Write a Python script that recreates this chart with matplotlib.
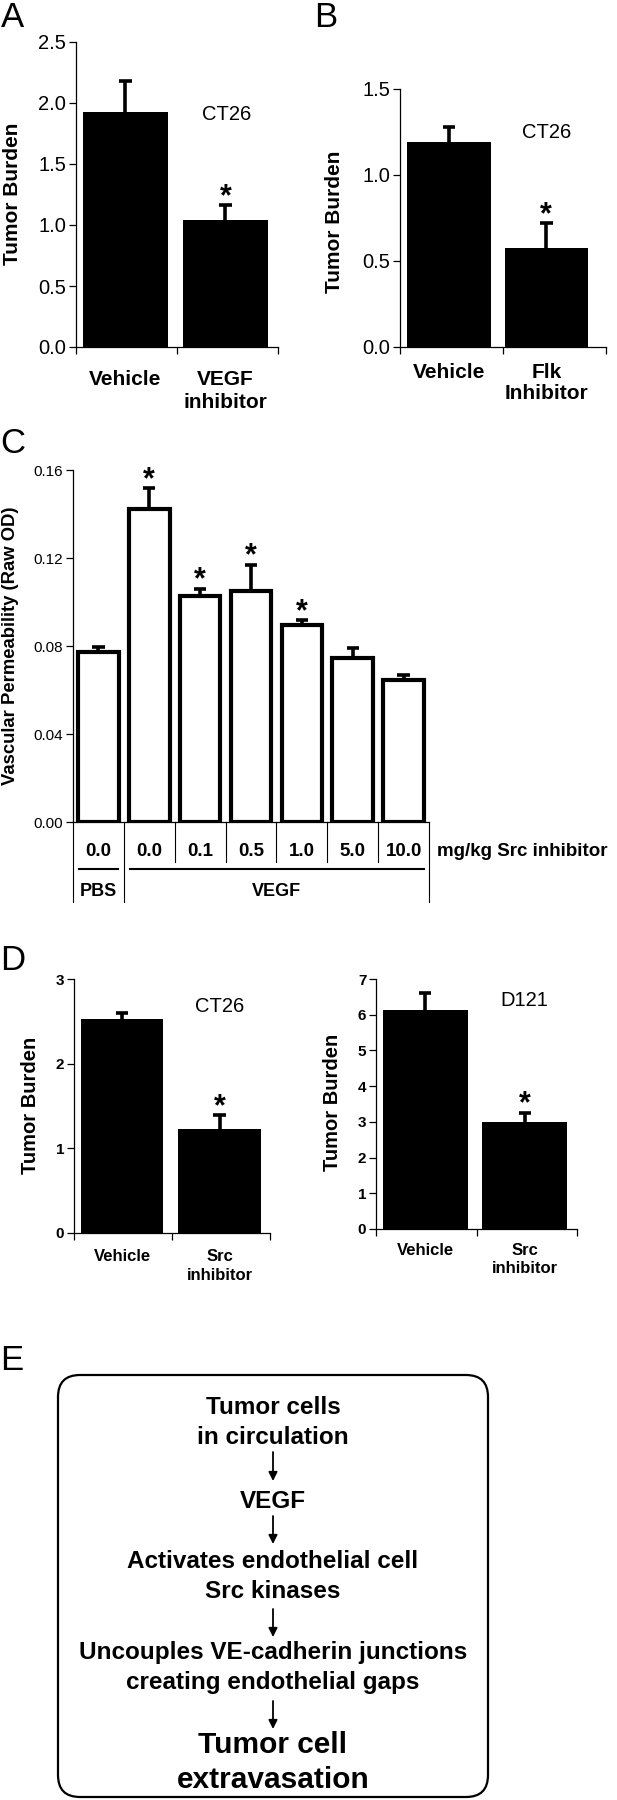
import matplotlib
matplotlib.use('Agg')
import matplotlib.pyplot as plt
from matplotlib.patches import FancyBboxPatch
from matplotlib.transforms import blended_transform_factory
import numpy as np

W, H = 617, 1800
DPI = 100
plt.rcParams['font.family'] = ['Liberation Sans', 'DejaVu Sans']

# ---------------- data ----------------
a_labels = ['Vehicle', 'VEGF\ninhibitor']
a_values = [1.93, 1.04]
a_err = [0.25, 0.12]
a_sig = [False, True]

b_labels = ['Vehicle', 'Flk\nInhibitor']
b_values = [1.19, 0.575]
b_err = [0.09, 0.145]
b_sig = [False, True]

c_doses = ['0.0', '0.0', '0.1', '0.5', '1.0', '5.0', '10.0']
c_values = [0.0773, 0.1422, 0.1029, 0.1052, 0.0894, 0.0747, 0.0646]
c_err = [0.0024, 0.0095, 0.0032, 0.0118, 0.0025, 0.0045, 0.0020]
c_sig = [False, True, True, True, True, False, False]
c_groups = ['PBS', 'VEGF']

d_labels = ['Vehicle', 'Src\ninhibitor']
d1_values = [2.53, 1.225]
d1_err = [0.07, 0.17]
d2_values = [6.13, 3.0]
d2_err = [0.48, 0.26]
d_sig = [False, True]

flow_lines = ['Tumor cells', 'in circulation', 'VEGF',
              'Activates endothelial cell', 'Src kinases',
              'Uncouples VE-cadherin junctions', 'creating endothelial gaps',
              'Tumor cell', 'extravasation']

fig = plt.figure(figsize=(W / DPI, H / DPI), dpi=DPI)


def rect(x0, y0, x1, y1):
    return [x0 / W, 1 - y1 / H, (x1 - x0) / W, (y1 - y0) / H]


def ftext(x, y, s, **kw):
    return fig.text(x / W, 1 - y / H, s, **kw)


# background axes for the diagram (pixel coordinates)
axe = fig.add_axes([0, 0, 1, 1])
axe.set_xlim(0, W)
axe.set_ylim(H, 0)
axe.axis('off')


def up_errors(ax, x, vals, errs, cw):
    x = np.asarray(x, float)
    tops = np.asarray(vals) + np.asarray(errs)
    ax.vlines(x, vals, tops, colors='black', lw=2.6, zorder=3)
    ax.hlines(tops, x - cw, x + cw, colors='black', lw=2.6, zorder=3)


def bar_panel(r, values, errs, sig, labels, ylim, yticks, fmt, tick_fs,
              tick_bold, lab_fs, lab_pad, lab_ls, centers, width, cw):
    ax = fig.add_axes(rect(*r))
    ax.bar(centers, values, width, color='black', zorder=2)
    up_errors(ax, centers, values, errs, cw)
    for s in ('top', 'right'):
        ax.spines[s].set_visible(False)
    for s in ('left', 'bottom'):
        ax.spines[s].set_linewidth(0.9)
    ax.set_xlim(0, 2)
    ax.set_ylim(*ylim)
    ax.set_yticks(yticks)
    ax.set_yticklabels([fmt.format(v) for v in yticks], fontsize=tick_fs,
                       fontweight='bold' if tick_bold else 'normal')
    ax.tick_params(axis='y', direction='out', length=5, width=0.9, pad=2)
    ax.set_xticks([0, 1, 2])
    ax.set_xticklabels([])
    ax.tick_params(axis='x', which='major', direction='out', length=5, width=0.9)
    ax.set_xticks(centers, labels, minor=True)
    ax.tick_params(axis='x', which='minor', length=0, pad=lab_pad)
    for lbl in ax.get_xticklabels(minor=True):
        lbl.set_fontsize(lab_fs)
        lbl.set_fontweight('bold')
        lbl.set_linespacing(lab_ls)
    ax.patch.set_alpha(0)
    for i, sg in enumerate(sig):
        if sg:
            ax.text(centers[i], values[i] + errs[i], '*', ha='center',
                    va='baseline', fontsize=22, fontweight='bold')
    return ax


# ---------------- panel A ----------------
bar_panel((76, 42, 278, 347), a_values, a_err, a_sig, a_labels, (0, 2.5),
          [0, 0.5, 1.0, 1.5, 2.0, 2.5], '{:.1f}', 14.5, False, 15, 16.5, 1.3,
          [0.49, 1.48], 0.84, 0.062)
ftext(12, 194, 'Tumor Burden', rotation=90, ha='center', va='center',
      fontsize=15, fontweight='bold')
ftext(227, 115, 'CT26', ha='center', va='center', fontsize=14.5)
ftext(1, 1, 'A', ha='left', va='top', fontsize=25)

# ---------------- panel B ----------------
bar_panel((400, 89, 606, 347), b_values, b_err, b_sig, b_labels, (0, 1.5),
          [0, 0.5, 1.0, 1.5], '{:.1f}', 14.5, False, 15, 11.5, 1.15,
          [0.475, 1.42], 0.81, 0.062)
ftext(334, 222, 'Tumor Burden', rotation=90, ha='center', va='center',
      fontsize=15, fontweight='bold')
ftext(547, 132, 'CT26', ha='center', va='center', fontsize=14.5)
ftext(314, 1, 'B', ha='left', va='top', fontsize=25)

# ---------------- panel C ----------------
axc = fig.add_axes(rect(73, 470, 429, 822))
axc.patch.set_alpha(0)
xc = np.arange(len(c_values)) + 0.5
axc.bar(xc, c_values, 0.8, color='white', edgecolor='black', linewidth=3,
        zorder=2)
up_errors(axc, xc, c_values, c_err, 0.12)
for s in ('top', 'right'):
    axc.spines[s].set_visible(False)
axc.spines['left'].set_linewidth(0.9)
axc.spines['bottom'].set_linewidth(0.9)
axc.set_xlim(0, 7)
axc.set_ylim(0, 0.16)
cy = [0, 0.04, 0.08, 0.12, 0.16]
axc.set_yticks(cy)
axc.set_yticklabels(['{:.2f}'.format(v) for v in cy], fontsize=11)
axc.tick_params(axis='y', direction='out', length=5, width=0.9, pad=2)
axc.set_xticks([])
for i, sg in enumerate(c_sig):
    if sg:
        axc.text(xc[i], c_values[i] + c_err[i], '*', ha='center', va='baseline',
                 fontsize=22, fontweight='bold')
trc = blended_transform_factory(axc.transData, axc.transAxes)
hc = 352.0
for i in range(len(c_values) + 1):
    L = 80 if i in (0, 1, len(c_values)) else 40
    axc.plot([i, i], [0, -L / hc], transform=trc, clip_on=False,
             color='black', lw=0.8)
for i, d in enumerate(c_doses):
    axc.text(xc[i], -30 / hc, d, transform=trc, ha='center', va='center',
             fontsize=13.5, fontweight='bold')
axc.plot([0.12, 0.88], [-47 / hc] * 2, transform=trc, clip_on=False,
         color='black', lw=1.5)
axc.plot([1.12, 6.9], [-47 / hc] * 2, transform=trc, clip_on=False,
         color='black', lw=1.5)
axc.text(0.5, -70 / hc, c_groups[0], transform=trc, ha='center', va='center',
         fontsize=13, fontweight='bold')
axc.text(4.0, -70 / hc, c_groups[1], transform=trc, ha='center', va='center',
         fontsize=13, fontweight='bold')
axc.text(7.16, -30 / hc, 'mg/kg Src inhibitor', transform=trc, ha='left',
         va='center', fontsize=13.5, fontweight='bold')
ftext(11, 646, 'Vascular Permeability (Raw OD)', rotation=90, ha='center',
      va='center', fontsize=13.3, fontweight='bold')
ftext(0, 427, 'C', ha='left', va='top', fontsize=25)

# ---------------- panel D ----------------
bar_panel((74, 979, 270, 1233), d1_values, d1_err, d_sig, d_labels, (0, 3),
          [0, 1, 2, 3], '{:d}', 11, True, 12, 11.5, 1.3,
          [0.49, 1.485], 0.84, 0.062)
ftext(31, 1105, 'Tumor Burden', rotation=90, ha='center', va='center',
      fontsize=14.5, fontweight='bold')
ftext(220, 1007, 'CT26', ha='center', va='center', fontsize=14.5)

bar_panel((376, 979, 577, 1229), d2_values, d2_err, d_sig, d_labels, (0, 7),
          [0, 1, 2, 3, 4, 5, 6, 7], '{:d}', 11, True, 12, 10, 1.3,
          [0.49, 1.48], 0.85, 0.062)
ftext(333, 1102, 'Tumor Burden', rotation=90, ha='center', va='center',
      fontsize=14.5, fontweight='bold')
ftext(524, 1001, 'D121', ha='center', va='center', fontsize=14.5)
ftext(0, 944, 'D', ha='left', va='top', fontsize=25)

# ---------------- panel E ----------------
ftext(0, 1344, 'E', ha='left', va='top', fontsize=25)
box = FancyBboxPatch((58, 1375), 430, 422,
                     boxstyle='round,pad=0,rounding_size=22',
                     fill=False, lw=1.6, edgecolor='black')
axe.add_patch(box)
xm = 273
ys = [1407, 1437, 1501, 1562, 1592, 1652, 1682, 1745, 1780]
sizes = [17.5, 17.5, 17.5, 17.5, 17.5, 17.5, 17.5, 21.5, 21.5]
for s, y, fs in zip(flow_lines, ys, sizes):
    axe.text(xm, y, s, ha='center', va='center', fontsize=fs,
             fontweight='bold')
for y0, y1 in [(1452, 1481), (1516, 1544), (1609, 1637), (1701, 1729)]:
    axe.annotate('', xy=(xm, y1), xytext=(xm, y0),
                 arrowprops=dict(arrowstyle='-|>', lw=1.3, color='black',
                                 mutation_scale=13, shrinkA=0, shrinkB=0))

fig.savefig('out.png', dpi=DPI)
